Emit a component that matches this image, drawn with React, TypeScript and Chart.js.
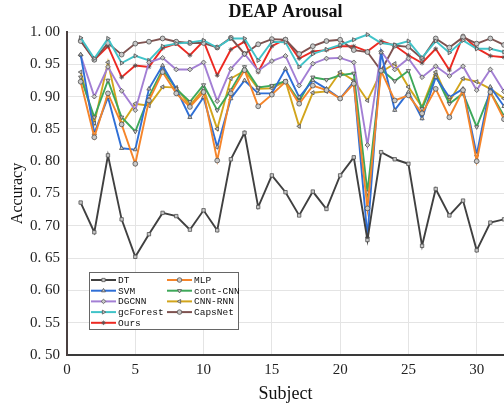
import React, { useEffect, useRef } from "react";
import { Chart, registerables } from "chart.js";
import { drawPoint } from "chart.js/helpers";

Chart.register(...registerables);

const subjects = [1, 2, 3, 4, 5, 6, 7, 8, 9, 10, 11, 12, 13, 14, 15, 16, 17, 18, 19, 20, 21, 22, 23, 24, 25, 26, 27, 28, 29, 30, 31, 32];

const dtValues = [0.736, 0.690, 0.809, 0.710, 0.652, 0.687, 0.720, 0.715, 0.694, 0.724, 0.693, 0.803, 0.844, 0.729, 0.778, 0.752, 0.716, 0.753, 0.726, 0.778, 0.806, 0.678, 0.814, 0.803, 0.796, 0.669, 0.757, 0.716, 0.739, 0.662, 0.705, 0.710];
const mlpValues = [0.923, 0.837, 0.905, 0.857, 0.796, 0.894, 0.938, 0.905, 0.884, 0.907, 0.801, 0.905, 0.941, 0.885, 0.903, 0.923, 0.889, 0.917, 0.910, 0.897, 0.920, 0.727, 0.940, 0.894, 0.902, 0.874, 0.912, 0.868, 0.910, 0.800, 0.907, 0.865];
const svmValues = [0.965, 0.843, 0.899, 0.820, 0.818, 0.912, 0.948, 0.912, 0.868, 0.899, 0.822, 0.897, 0.925, 0.905, 0.905, 0.943, 0.899, 0.925, 0.912, 0.897, 0.923, 0.683, 0.968, 0.879, 0.907, 0.866, 0.930, 0.899, 0.912, 0.810, 0.915, 0.885];
const contCnnValues = [0.930, 0.868, 0.925, 0.868, 0.846, 0.900, 0.942, 0.912, 0.892, 0.918, 0.879, 0.910, 0.946, 0.914, 0.917, 0.924, 0.893, 0.930, 0.926, 0.933, 0.936, 0.752, 0.942, 0.924, 0.940, 0.881, 0.933, 0.889, 0.905, 0.853, 0.907, 0.870];
const dgcnnValues = [0.964, 0.900, 0.946, 0.909, 0.879, 0.953, 0.960, 0.942, 0.942, 0.953, 0.893, 0.943, 0.966, 0.940, 0.955, 0.963, 0.917, 0.951, 0.959, 0.960, 0.953, 0.825, 0.970, 0.942, 0.959, 0.930, 0.947, 0.932, 0.947, 0.910, 0.942, 0.908];
const cnnRnnValues = [0.938, 0.859, 0.953, 0.857, 0.889, 0.886, 0.915, 0.914, 0.886, 0.912, 0.850, 0.928, 0.940, 0.912, 0.913, 0.924, 0.854, 0.906, 0.908, 0.938, 0.925, 0.894, 0.938, 0.951, 0.915, 0.884, 0.938, 0.892, 0.928, 0.923, 0.912, 0.897];
const gcForestValues = [0.991, 0.959, 0.990, 0.952, 0.963, 0.956, 0.978, 0.982, 0.984, 0.987, 0.976, 0.990, 0.990, 0.956, 0.985, 0.984, 0.946, 0.966, 0.973, 0.980, 0.988, 0.996, 0.983, 0.980, 0.986, 0.960, 0.986, 0.968, 0.987, 0.974, 0.974, 0.969];
const capsNetValues = [0.986, 0.957, 0.983, 0.965, 0.982, 0.985, 0.990, 0.985, 0.983, 0.983, 0.976, 0.991, 0.966, 0.981, 0.989, 0.988, 0.966, 0.978, 0.986, 0.988, 0.972, 0.969, 0.940, 0.979, 0.977, 0.959, 0.990, 0.976, 0.992, 0.982, 0.990, 0.980];
const oursValues = [0.987, 0.957, 0.978, 0.930, 0.948, 0.946, 0.975, 0.982, 0.964, 0.986, 0.933, 0.973, 0.985, 0.938, 0.978, 0.989, 0.959, 0.970, 0.972, 0.978, 0.978, 0.970, 0.986, 0.979, 0.964, 0.952, 0.974, 0.941, 0.994, 0.975, 0.963, 0.961];

const seriesNames = ["DT", "MLP", "SVM", "cont-CNN", "DGCNN", "CNN-RNN", "gcForest", "CapsNet", "Ours"];
const seriesValues = [dtValues, mlpValues, svmValues, contCnnValues, dgcnnValues, cnnRnnValues, gcForestValues, capsNetValues, oursValues];
const seriesColors = ["#404040", "#f5852a", "#2f6fd6", "#3ea85a", "#a37fd4", "#d2a51c", "#40c3c8", "#7e5250", "#ec2a22"];
const seriesMarkers = ["rect", "circle", "triangle", "triangle", "rectRot", "triangle", "triangle", "circle", "star"];
const seriesRotations = [0, 0, 0, 180, 0, -90, 90, 0, 0];

const xTicks = [0, 5, 10, 15, 20, 25, 30];

const title = "DEAP Arousal";
const xTitle = "Subject";
const yTitle = "Accuracy";

const legendPlugin = {
  id: "customLegend",
  afterDraw(chart: any) {
    const ctx = chart.ctx;
    const ds = chart.data.datasets;
    const boxL = 89, boxT = 272, boxW = 149, boxH = 57;
    ctx.save();
    ctx.fillStyle = "#ffffff";
    ctx.fillRect(boxL, boxT, boxW, boxH);
    ctx.strokeStyle = "#666666";
    ctx.lineWidth = 1;
    ctx.strokeRect(boxL + 0.5, boxT + 0.5, boxW, boxH);
    ctx.font = "9.5px 'Liberation Mono', monospace";
    ctx.textBaseline = "middle";
    ds.forEach((d: any, k: number) => {
      const row = Math.floor(k / 2);
      const col = k % 2;
      const y = 280 + row * 10.7;
      const x0 = col === 0 ? 91 : 167;
      const x1 = x0 + 25;
      ctx.strokeStyle = d.borderColor;
      ctx.lineWidth = 2;
      ctx.beginPath();
      ctx.moveTo(x0, y);
      ctx.lineTo(x1, y);
      ctx.stroke();
      ctx.fillStyle = "#c8c8c8";
      ctx.strokeStyle = "#555555";
      ctx.lineWidth = 0.8;
      drawPoint(ctx, { pointStyle: d.pointStyle, rotation: d.pointRotation, radius: 2.3, borderWidth: 0.8 }, (x0 + x1) / 2, y);
      ctx.fillStyle = "#111111";
      ctx.fillText(d.label, x1 + 2, y + 0.5);
    });
    ctx.restore();
  },
};

export default function App() {
  const canvasRef = useRef<HTMLCanvasElement | null>(null);

  useEffect(() => {
    if (!canvasRef.current) return;
    const datasets = seriesNames.map((name, i) => ({
      label: name,
      data: subjects.map((s, j) => ({ x: s, y: seriesValues[i][j] })),
      borderColor: seriesColors[i],
      backgroundColor: seriesColors[i],
      borderWidth: 1.9,
      pointStyle: seriesMarkers[i],
      pointRotation: seriesRotations[i],
      pointRadius: 2.4,
      pointBackgroundColor: "#c8c8c8",
      pointBorderColor: "#505050",
      pointBorderWidth: 0.8,
      tension: 0,
      clip: false as any,
    }));
    const chart = new Chart(canvasRef.current, {
      type: "line",
      data: { datasets },
      plugins: [legendPlugin],
      options: {
        animation: false,
        responsive: false,
        devicePixelRatio: 1,
        layout: { autoPadding: false, padding: { left: 0, right: 0, top: 0, bottom: 0 } },
        plugins: {
          legend: { display: false },
          tooltip: { enabled: false },
          title: {
            display: true,
            fullSize: false,
            text: title,
            color: "#111111",
            font: { family: "'Liberation Serif', serif", size: 18, weight: "bold" },
            padding: { top: 2, bottom: 8.4 },
          },
        },
        scales: {
          x: {
            type: "linear",
            min: 0,
            max: 32,
            afterBuildTicks: (scale: any) => {
              scale.ticks = xTicks.map((v) => ({ value: v }));
            },
            afterFit: (scale: any) => {
              scale.height = 50;
              scale.paddingRight = 0;
              scale.paddingLeft = 0;
            },
            grid: { color: "#e4e4e4", lineWidth: 1, drawTicks: false },
            border: { display: true, color: "#3a3a3a", width: 2 },
            ticks: {
              color: "#222222",
              font: { family: "'Liberation Serif', serif", size: 15 },
              padding: 6,
              maxRotation: 0,
              autoSkip: false,
            },
            title: {
              display: true,
              text: xTitle,
              color: "#111111",
              font: { family: "'Liberation Serif', serif", size: 18 },
              padding: { top: 3, bottom: 0 },
            },
          },
          y: {
            type: "linear",
            min: 0.5,
            max: 1.0,
            afterFit: (scale: any) => {
              scale.width = 67;
              scale.paddingTop = 0;
              scale.paddingBottom = 0;
            },
            grid: { color: "#e4e4e4", lineWidth: 1, drawTicks: false },
            border: { display: true, color: "#4a4040", width: 2 },
            ticks: {
              stepSize: 0.05,
              color: "#222222",
              font: { family: "'Liberation Serif', serif", size: 15 },
              padding: 7,
              callback: (v: any) => {
                const s = Number(v).toFixed(2);
                return s.replace(".", ". ");
              },
            },
            title: {
              display: true,
              text: yTitle,
              color: "#111111",
              font: { family: "'Liberation Serif', serif", size: 16 },
              padding: { top: 8, bottom: 0 },
            },
          },
        },
      },
    } as any);
    return () => chart.destroy();
  }, []);

  return (
    <div style={{ position: "fixed", left: 0, top: 0, width: 504, height: 405, background: "#ffffff" }}>
      <canvas ref={canvasRef} width={504} height={405} />
    </div>
  );
}
